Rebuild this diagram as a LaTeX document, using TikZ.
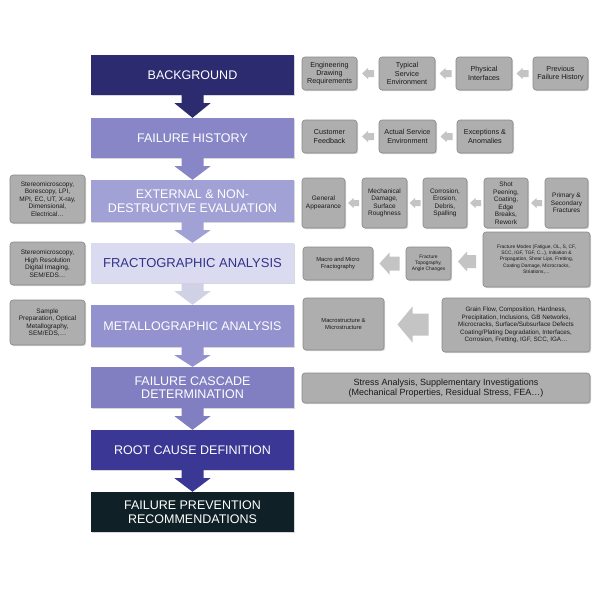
\documentclass[tikz,border=0pt]{standalone}
\usepackage{fontspec}
\setmainfont{Liberation Sans}
\usetikzlibrary{calc,shadows}
\definecolor{cBG}{HTML}{2D2B70}
\definecolor{cFH}{HTML}{8886C7}
\definecolor{cEXT}{HTML}{A2A1D5}
\definecolor{cFRA}{HTML}{DADAF0}
\definecolor{cFRAtxt}{HTML}{34338A}
\definecolor{cMET}{HTML}{9391CE}
\definecolor{cCAS}{HTML}{817FC1}
\definecolor{cROOT}{HTML}{3A3894}
\definecolor{cPREV}{HTML}{0F2127}
\definecolor{boxgrey}{HTML}{AEAEAE}
\definecolor{boxedge}{HTML}{888888}
\definecolor{txtgrey}{HTML}{1A1A1A}
\definecolor{arrgrey}{HTML}{C4C4C4}
\newcommand\gfontA{\fontsize{7.2}{8.2}\selectfont}
\newcommand\gfontB{\fontsize{6.5}{7.5}\selectfont}
\newcommand\gfontC{\fontsize{5.8}{6.8}\selectfont}
\newcommand\gfontD{\fontsize{4.9}{6.2}\selectfont}
\newcommand\flowarr[3]{%
  \fill[#3] ($(#1.south)+(-11,0)$) -- ($(#1.south)+(-11,8)$) -- ($(#1.south)+(-18,8)$) -- (#2.north)
    -- ($(#1.south)+(18,8)$) -- ($(#1.south)+(11,8)$) -- ($(#1.south)+(11,0)$) -- cycle;}
\newcommand\lfarrow[6]{%
  \path ($(#1.east)!0.5!(#2.west)$) coordinate (mm);
  \fill[arrgrey] ($(mm)+(-#3,0)$) -- ++(#4,-#5) -- ++(0,{#5-#6}) -- ++({2*#3-#4},0) -- ++(0,{2*#6})
    -- ++({-(2*#3-#4)},0) -- ++(0,{#5-#6}) -- cycle;}
\begin{document}
\begin{tikzpicture}[x=1pt,y=-1pt,
  main/.style={rectangle, minimum width=203pt, align=center, inner sep=0pt,
    font=\fontsize{12.5}{13.5}\selectfont, text=white,
    drop shadow={opacity=0.3,shadow xshift=1.2pt,shadow yshift=-1.2pt}},
  gbox/.style={rectangle, rounded corners=3pt, fill=boxgrey, draw=boxedge, line width=0.6pt,
    align=center, inner sep=1pt, text=txtgrey,
    drop shadow={opacity=0.3,shadow xshift=1.2pt,shadow yshift=-1.2pt}}]
\fill[white] (0,0) rectangle (600,600);
\useasboundingbox (0,0) rectangle (600,600);

% main column
\node[main, fill=cBG, minimum height=40pt] (bg) at (192.5,75) {BACKGROUND};
\node[main, fill=cFH, minimum height=40pt] (fh) at (192.5,138) {FAILURE HISTORY};
\node[main, fill=cEXT, minimum height=42pt] (ext) at (192.5,201) {EXTERNAL \& NON-\\DESTRUCTIVE EVALUATION};
\node[main, fill=cFRA, text=cFRAtxt, minimum height=40pt, font=\fontsize{13}{14}\selectfont] (fra) at (192.5,263) {FRACTOGRAPHIC ANALYSIS};
\node[main, fill=cMET, minimum height=42pt] (met) at (192.5,326) {METALLOGRAPHIC ANALYSIS};
\node[main, fill=cCAS, minimum height=41pt] (cas) at (192.5,387.5) {FAILURE CASCADE\\DETERMINATION};
\node[main, fill=cROOT, minimum height=40pt] (root) at (192.5,450) {ROOT CAUSE DEFINITION};
\node[main, fill=cPREV, minimum height=40pt] (prev) at (192.5,512) {FAILURE PREVENTION\\RECOMMENDATIONS};

\flowarr{bg}{fh}{cBG}
\flowarr{fh}{ext}{cFH}
\flowarr{ext}{fra}{cEXT}
\flowarr{fra}{met}{cFRA!90!gray}
\flowarr{met}{cas}{cMET}
\flowarr{cas}{root}{cCAS}
\flowarr{root}{prev}{cROOT}

% left boxes
\node[gbox, minimum width=75pt, minimum height=48pt, font=\gfontB] (l1) at (47.5,199)
  {Stereomicroscopy,\\Borescopy, LPI,\\MPI, EC, UT, X-ray,\\Dimensional,\\Electrical…};
\node[gbox, minimum width=75pt, minimum height=43pt, font=\gfontB] (l2) at (47.5,263.5)
  {Stereomicroscopy,\\High Resolution\\Digital Imaging,\\SEM/EDS…};
\node[gbox, minimum width=75pt, minimum height=45pt, font=\gfontB] (l3) at (47.5,322.5)
  {Sample\\Preparation, Optical\\Metallography,\\SEM/EDS,…};

% row 1
\node[gbox, minimum width=55pt, minimum height=33pt, font=\gfontA] (r1a) at (329.5,73.5) {Engineering\\Drawing\\Requirements};
\node[gbox, minimum width=56pt, minimum height=33pt, font=\gfontA] (r1b) at (407,73.5) {Typical\\Service\\Environment};
\node[gbox, minimum width=56pt, minimum height=33pt, font=\gfontA] (r1c) at (484,73.5) {Physical\\Interfaces};
\node[gbox, minimum width=55pt, minimum height=33pt, font=\gfontA] (r1d) at (560.5,73.5) {Previous\\Failure History};
\lfarrow{r1a}{r1b}{6}{6}{5.5}{3.5}
\lfarrow{r1b}{r1c}{6}{6}{5.5}{3.5}
\lfarrow{r1c}{r1d}{6}{6}{5.5}{3.5}

% row 2
\node[gbox, minimum width=55pt, minimum height=33pt, font=\gfontA] (r2a) at (329.5,136.5) {Customer\\Feedback};
\node[gbox, minimum width=57pt, minimum height=33pt, font=\gfontA] (r2b) at (407.5,136.5) {Actual Service\\Environment};
\node[gbox, minimum width=56pt, minimum height=33pt, font=\gfontA] (r2c) at (485,136.5) {Exceptions \&\\Anomalies};
\lfarrow{r2a}{r2b}{6}{6}{5.5}{3.5}
\lfarrow{r2b}{r2c}{6}{6}{5.5}{3.5}

% row 3
\node[gbox, minimum width=43pt, minimum height=50pt, font=\gfontB] (r3a) at (323.5,203) {General\\Appearance};
\node[gbox, minimum width=45pt, minimum height=50pt, font=\gfontB] (r3b) at (384.5,203) {Mechanical\\Damage,\\Surface\\Roughness};
\node[gbox, minimum width=44pt, minimum height=50pt, font=\gfontB] (r3c) at (445,203) {Corrosion,\\Erosion,\\Debris,\\Spalling};
\node[gbox, minimum width=44pt, minimum height=50pt, font=\gfontB] (r3d) at (506,203) {Shot\\Peening,\\Coating,\\Edge\\Breaks,\\Rework};
\node[gbox, minimum width=43pt, minimum height=50pt, font=\gfontB] (r3e) at (566.5,203) {Primary \&\\Secondary\\Fractures};
\lfarrow{r3a}{r3b}{5.5}{5.5}{5}{3}
\lfarrow{r3b}{r3c}{5.5}{5.5}{5}{3}
\lfarrow{r3c}{r3d}{5.5}{5.5}{5}{3}
\lfarrow{r3d}{r3e}{5.5}{5.5}{5}{3}

% row 4
\node[gbox, minimum width=70pt, minimum height=33pt, font=\gfontC] (r4a) at (338,263.5) {Macro and Micro\\Fractography};
\node[gbox, minimum width=45pt, minimum height=33pt, font=\gfontD] (r4b) at (428.5,263.5) {Fracture\\Topography,\\Angle Changes};
\node[gbox, minimum width=107pt, minimum height=55pt, font=\gfontD] (r4c) at (536.5,259.5)
  {Fracture Modes (Fatigue, OL, S, CF,\\SCC, IGF, TGF, C...), Initiation \&\\Propagation, Shear Lips, Fretting,\\Coating Damage, Microcracks,\\Striations,…};
\lfarrow{r4a}{r4b}{10}{10}{11}{7}
\lfarrow{r4b}{r4c}{9}{9}{10}{6.5}

% row 5
\node[gbox, minimum width=81pt, minimum height=52pt, font=\gfontC] (r5a) at (343.5,324) {Macrostructure \&\\Microstructure};
\node[gbox, minimum width=148pt, minimum height=54pt, font=\fontsize{6.3}{7.5}\selectfont] (r5b) at (516,325)
  {Grain Flow, Composition, Hardness,\\Precipitation, Inclusions, GB Networks,\\Microcracks, Surface/Subsurface Defects\\Coating/Plating Degradation, Interfaces,\\Corrosion, Fretting, IGF, SCC, IGA…};
\lfarrow{r5a}{r5b}{15.5}{15}{18}{11}

% stress
\node[gbox, minimum width=288pt, minimum height=30pt, font=\fontsize{9}{10}\selectfont] (st) at (446,388)
  {Stress Analysis, Supplementary Investigations\\(Mechanical Properties, Residual Stress, FEA…)};
\end{tikzpicture}
\end{document}
